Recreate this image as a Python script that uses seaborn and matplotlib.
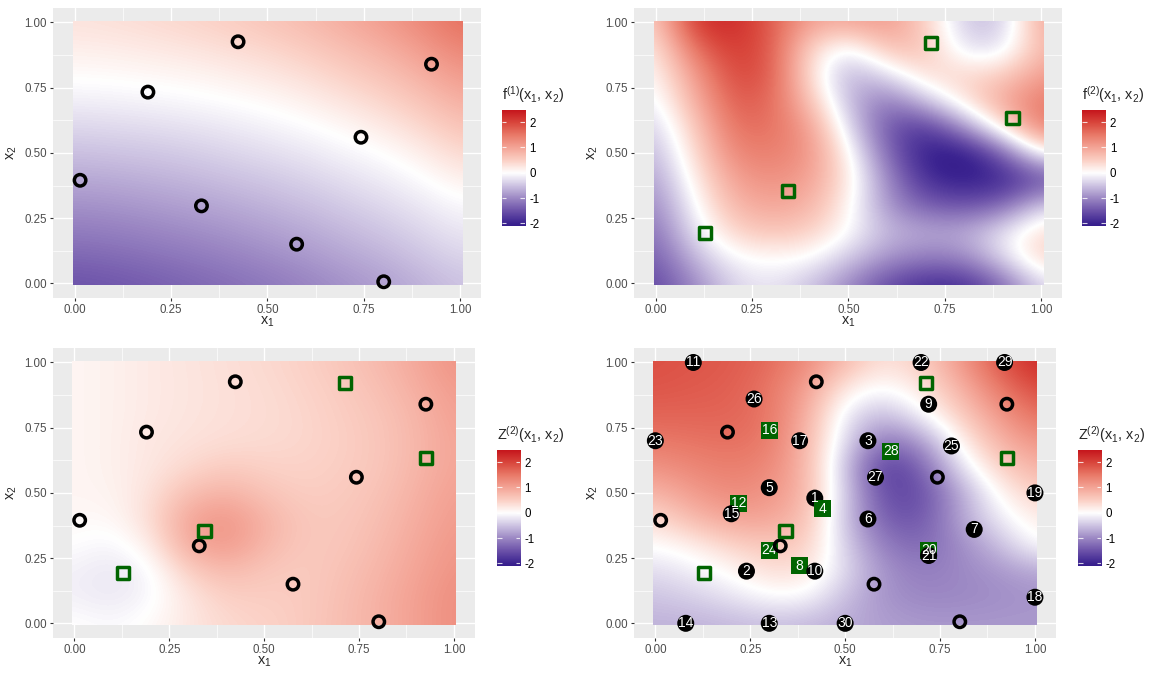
import numpy as np
import pandas as pd
import matplotlib
matplotlib.use("Agg")
import matplotlib.pyplot as plt
from matplotlib.colors import LinearSegmentedColormap, Normalize
from matplotlib.patches import Rectangle
import seaborn as sns

# ---- values ----
# fields were read on a 0.1 grid: rows are x2 = 0.0 ... 1.0, columns are x1 = 0.0 ... 1.0
f1_values = [
    [-1.50, -1.46, -1.40, -1.32, -1.24, -1.15, -1.04, -0.92, -0.80, -0.65, -0.50],
    [-1.31, -1.27, -1.21, -1.14, -1.06, -0.97, -0.87, -0.75, -0.64, -0.49, -0.35],
    [-1.11, -1.08, -1.02, -0.96, -0.89, -0.80, -0.71, -0.59, -0.48, -0.34, -0.20],
    [-0.92, -0.89, -0.84, -0.78, -0.71, -0.63, -0.54, -0.43, -0.32, -0.19, -0.05],
    [-0.72, -0.70, -0.65, -0.60, -0.53, -0.46, -0.37, -0.26, -0.16, -0.03, 0.17],
    [-0.53, -0.50, -0.47, -0.42, -0.35, -0.28, -0.20, -0.10, 0.00, 0.18, 0.41],
    [-0.33, -0.31, -0.28, -0.24, -0.18, -0.11, -0.03, 0.08, 0.22, 0.41, 0.65],
    [-0.14, -0.12, -0.09, -0.05, 0.00, 0.06, 0.16, 0.29, 0.44, 0.64, 0.89],
    [0.04, 0.05, 0.08, 0.11, 0.17, 0.25, 0.35, 0.50, 0.65, 0.87, 1.13],
    [0.17, 0.19, 0.23, 0.28, 0.35, 0.43, 0.55, 0.70, 0.87, 1.10, 1.37],
    [0.30, 0.33, 0.38, 0.44, 0.52, 0.62, 0.74, 0.91, 1.09, 1.33, 1.61],
]

f2_values = [
    [-1.6, -1.0, -0.35, -0.2, -0.5, -1.0, -1.6, -1.9, -1.9, -1.3, -0.3],
    [-1.4, -0.6, -0.05, 0.05, 0.0, -0.45, -0.9, -1.1, -1.0, -0.3, 0.5],
    [-1.2, -0.25, 0.45, 0.65, 0.5, 0.0, -0.6, -0.7, -0.7, -0.2, 0.4],
    [-1.0, -0.05, 0.8, 1.0, 0.85, 0.1, -0.9, -1.4, -1.5, -1.3, -0.4],
    [-0.8, 0.15, 1.05, 1.25, 1.05, 0.25, -1.0, -1.9, -2.1, -2.0, -1.6],
    [-0.6, 0.35, 1.35, 1.45, 1.2, 0.1, -1.3, -2.1, -2.2, -1.4, 0.05],
    [-0.4, 0.55, 1.6, 1.6, 1.1, -0.3, -1.5, -1.8, -0.9, 0.3, 1.5],
    [-0.15, 0.85, 1.8, 1.7, 0.65, -0.6, -1.2, -0.5, 0.3, 1.0, 1.5],
    [0.05, 1.1, 2.0, 1.85, 0.3, -0.7, -0.3, 0.4, 0.45, 0.5, 1.1],
    [0.2, 1.6, 2.15, 1.85, 0.4, -0.2, 0.7, 0.65, -0.3, -0.25, 0.8],
    [0.5, 2.2, 2.3, 1.8, 1.0, 1.0, 1.15, 0.5, -0.5, -0.5, 1.0],
]

z2_prior_values = [
    [0.02, -0.05, 0.05, 0.25, 0.40, 0.47, 0.55, 0.70, 0.85, 1.05, 1.25],
    [-0.12, -0.20, -0.08, 0.25, 0.50, 0.52, 0.55, 0.68, 0.85, 1.05, 1.25],
    [-0.12, -0.22, -0.10, 0.50, 0.75, 0.60, 0.55, 0.65, 0.80, 1.00, 1.20],
    [0.00, -0.10, 0.15, 0.95, 1.15, 0.80, 0.58, 0.60, 0.75, 0.95, 1.15],
    [0.08, 0.05, 0.35, 1.00, 1.20, 0.85, 0.60, 0.58, 0.70, 0.90, 1.10],
    [0.10, 0.12, 0.30, 0.70, 0.85, 0.65, 0.52, 0.55, 0.65, 0.85, 1.05],
    [0.10, 0.15, 0.25, 0.40, 0.55, 0.48, 0.46, 0.52, 0.60, 0.80, 1.00],
    [0.10, 0.15, 0.25, 0.30, 0.35, 0.38, 0.42, 0.50, 0.60, 0.78, 1.00],
    [0.10, 0.15, 0.22, 0.28, 0.32, 0.36, 0.42, 0.52, 0.62, 0.80, 1.05],
    [0.10, 0.15, 0.22, 0.27, 0.32, 0.37, 0.45, 0.55, 0.68, 0.88, 1.10],
    [0.10, 0.15, 0.22, 0.28, 0.33, 0.40, 0.48, 0.60, 0.75, 0.95, 1.20],
]

z2_post_values = [
    [-0.65, -0.65, -0.6, -0.55, -0.6, -0.7, -0.8, -0.85, -0.85, -0.85, -0.85],
    [-0.5, -0.4, -0.25, -0.05, -0.05, -0.55, -0.9, -1.0, -1.0, -0.95, -0.9],
    [-0.3, -0.15, 0.05, 0.35, 0.3, -0.3, -0.9, -1.1, -1.0, -0.9, -0.75],
    [0.0, 0.15, 0.45, 0.6, 0.55, -0.4, -1.1, -1.3, -1.0, -0.6, 0.0],
    [0.35, 0.75, 1.0, 1.0, 0.7, -0.5, -1.4, -1.5, -0.8, -0.2, 0.2],
    [0.8, 1.1, 1.3, 1.2, 0.8, -0.4, -1.6, -1.6, -0.8, 0.05, 0.5],
    [1.2, 1.35, 1.45, 1.35, 0.8, -0.5, -1.8, -1.4, -0.3, 0.45, 0.85],
    [1.5, 1.55, 1.6, 1.5, 0.8, -0.3, -1.2, -0.9, 0.1, 0.8, 1.2],
    [1.7, 1.7, 1.7, 1.55, 0.9, -0.2, -0.6, -0.1, 0.5, 1.1, 1.6],
    [1.85, 1.8, 1.75, 1.55, 1.05, 0.2, -0.05, 0.25, 0.8, 1.45, 1.95],
    [1.9, 1.85, 1.8, 1.65, 1.3, 0.75, 0.3, 0.5, 1.1, 1.8, 2.3],
]

# low fidelity design (open circles)
circ_x1 = [0.014, 0.19, 0.329, 0.424, 0.576, 0.743, 0.802, 0.926]
circ_x2 = [0.395, 0.733, 0.297, 0.926, 0.150, 0.560, 0.006, 0.840]

# high fidelity design (open squares)
sq_x1 = [0.129, 0.343, 0.714, 0.926]
sq_x2 = [0.193, 0.353, 0.922, 0.633]

# numbered candidate points, id 1..30
num_id = list(range(1, 31))
num_x1 = [0.42, 0.24, 0.56, 0.44, 0.30, 0.56, 0.84, 0.38, 0.72, 0.42,
          0.10, 0.22, 0.30, 0.08, 0.20, 0.30, 0.38, 1.00, 1.00, 0.72,
          0.72, 0.70, 0.00, 0.30, 0.78, 0.26, 0.58, 0.62, 0.92, 0.50]
num_x2 = [0.48, 0.20, 0.70, 0.44, 0.52, 0.40, 0.36, 0.22, 0.84, 0.20,
          1.00, 0.46, 0.00, 0.00, 0.42, 0.74, 0.70, 0.10, 0.50, 0.28,
          0.26, 1.00, 0.70, 0.28, 0.68, 0.86, 0.56, 0.66, 1.00, 0.00]

axis_ticks = [0.0, 0.25, 0.5, 0.75, 1.0]
axis_tick_labels = ["0.00", "0.25", "0.50", "0.75", "1.00"]
minor_ticks = [0.125, 0.375, 0.625, 0.875]
bar_ticks = [-2, -1, 0, 1, 2]
bar_tick_labels = ["-2", "-1", "0", "1", "2"]
bar_limits = (-2.09, 2.48)

# ---- style ----
sns.set_theme(style="darkgrid", rc={
    "axes.facecolor": "#EBEBEB",
    "grid.color": "white",
    "figure.facecolor": "white",
})
plt.rcParams["font.family"] = ["Liberation Sans", "DejaVu Sans"]
plt.rcParams["mathtext.fontset"] = "custom"
plt.rcParams["mathtext.rm"] = "Liberation Sans"

fill_cmap = LinearSegmentedColormap.from_list("fill", [
    (0.0, "#22057a"), (0.1, "#3b2390"), (0.2, "#6c52a9"), (0.3, "#9c88c4"),
    (0.4, "#cdc3e2"), (0.5, "#ffffff"), (0.6, "#fbd0c5"), (0.7, "#f4a597"),
    (0.8, "#e97a69"), (0.9, "#d9463c"), (1.0, "#c5151c"),
])
fill_norm = Normalize(vmin=-2.5, vmax=2.5)

W, H = 1161, 680
fig = plt.figure(figsize=(W / 100, H / 100), dpi=100)


def px_axes(left, top, right, bottom):
    return fig.add_axes([left / W, 1 - bottom / H, (right - left) / W, (bottom - top) / H])


def draw_field(ax, values):
    im = ax.imshow(np.array(values), origin="lower", extent=(-0.05, 1.05, -0.05, 1.05),
                   cmap=fill_cmap, norm=fill_norm, interpolation="bicubic",
                   aspect="auto", zorder=1)
    im.set_clip_path(Rectangle((-0.005, -0.005), 1.01, 1.01, transform=ax.transData))


def draw_open_points(ax, circles=True, squares=True):
    if circles:
        sns.scatterplot(x=circ_x1, y=circ_x2, ax=ax, marker="o", s=68,
                        facecolor="none", edgecolor="black", linewidth=2.5, zorder=6)
    if squares:
        sns.scatterplot(x=sq_x1, y=sq_x2, ax=ax, marker="s", s=77,
                        facecolor="none", edgecolor="darkgreen", linewidth=2.5, zorder=6)


def style_panel(ax):
    ax.set_xlim(-0.0555, 1.0555)
    ax.set_ylim(-0.0555, 1.0555)
    ax.set_xticks(axis_ticks)
    ax.set_xticklabels(axis_tick_labels)
    ax.set_yticks(axis_ticks)
    ax.set_yticklabels(axis_tick_labels)
    ax.set_xticks(minor_ticks, minor=True)
    ax.set_yticks(minor_ticks, minor=True)
    ax.grid(which="major", color="white", linewidth=1.0)
    ax.grid(which="minor", color="white", linewidth=0.5)
    ax.tick_params(which="major", bottom=True, left=True, length=2.4, width=0.8,
                   color="#333333", labelcolor="#4D4D4D", labelsize=8.3, pad=2.2)
    ax.tick_params(which="minor", length=0)
    for s in ax.spines.values():
        s.set_visible(False)
    ax.set_xlabel("")
    ax.set_ylabel("")


def add_axis_titles(left, x_center, mid_y, label_y):
    fig.text(x_center / W, 1 - label_y / H, "x$_1$",
             ha="center", va="center", fontsize=10.4)
    fig.text((left - 41.6) / W, 1 - mid_y / H, "x$_2$",
             ha="center", va="center", rotation=90, fontsize=10.4)


def draw_colorbar(left, top, title):
    cax = px_axes(left, top, left + 23.3, top + 115.7)
    bar = np.linspace(bar_limits[0], bar_limits[1], 200).reshape(-1, 1)
    cax.imshow(bar, origin="lower", extent=(0, 1, bar_limits[0], bar_limits[1]),
               cmap=fill_cmap, norm=fill_norm, aspect="auto", interpolation="bilinear")
    cax.set_xlim(0, 1)
    cax.set_ylim(*bar_limits)
    cax.hlines(bar_ticks, 0, 0.2, color="white", lw=0.8, alpha=0.8)
    cax.hlines(bar_ticks, 0.8, 1, color="white", lw=0.8, alpha=0.8)
    cax.grid(False)
    cax.set_xticks([])
    cax.yaxis.tick_right()
    cax.set_yticks(bar_ticks)
    cax.set_yticklabels(bar_tick_labels)
    cax.tick_params(axis="y", length=0, pad=3, labelsize=8.3, labelcolor="black")
    for s in cax.spines.values():
        s.set_visible(False)
    fig.text(left / W, 1 - (top - 15) / H, title, ha="left", va="center", fontsize=10.4)


# panel boxes in pixels: left, top, right, bottom
ax_tl = px_axes(53.3, 8, 481.4, 297.8)
ax_tr = px_axes(634.3, 8, 1062.4, 297.8)
ax_bl = px_axes(53.3, 348, 475, 637.8)
ax_br = px_axes(634.3, 348, 1056, 637.8)

# top left: f1 with low fidelity design
draw_field(ax_tl, f1_values)
draw_open_points(ax_tl, circles=True, squares=False)
style_panel(ax_tl)

# top right: f2 with high fidelity design
draw_field(ax_tr, f2_values)
draw_open_points(ax_tr, circles=False, squares=True)
style_panel(ax_tr)

# bottom left: Z2 before candidates
draw_field(ax_bl, z2_prior_values)
draw_open_points(ax_bl)
style_panel(ax_bl)

# bottom right: Z2 with numbered candidates
draw_field(ax_br, z2_post_values)
num_df = pd.DataFrame({"x1": num_x1, "x2": num_x2, "id": num_id})
num_df["shape"] = np.where(num_df["id"] % 4 == 0, "square", "circle")
sns.scatterplot(data=num_df, x="x1", y="x2", hue="shape", style="shape",
                markers={"circle": "o", "square": "s"},
                palette={"circle": "black", "square": "darkgreen"},
                s=150, linewidth=0, legend=False, ax=ax_br, zorder=4)
for _, row in num_df.iterrows():
    ax_br.text(row["x1"], row["x2"], str(int(row["id"])), color="white",
               ha="center", va="center", fontsize=10, zorder=5)
draw_open_points(ax_br)
style_panel(ax_br)

# axis titles
add_axis_titles(53.3, 267.4, 153, 322)
add_axis_titles(634.3, 848.4, 153, 322)
add_axis_titles(53.3, 264.3, 493, 662)
add_axis_titles(634.3, 845.3, 493, 662)

# legends
draw_colorbar(501.7, 110, "f$^{(1)}$(x$_1$, x$_2$)")
draw_colorbar(1082.4, 110, "f$^{(2)}$(x$_1$, x$_2$)")
draw_colorbar(497, 450, "Z$^{(2)}$(x$_1$, x$_2$)")
draw_colorbar(1078, 450, "Z$^{(2)}$(x$_1$, x$_2$)")

fig.savefig("out.png", dpi=100)
